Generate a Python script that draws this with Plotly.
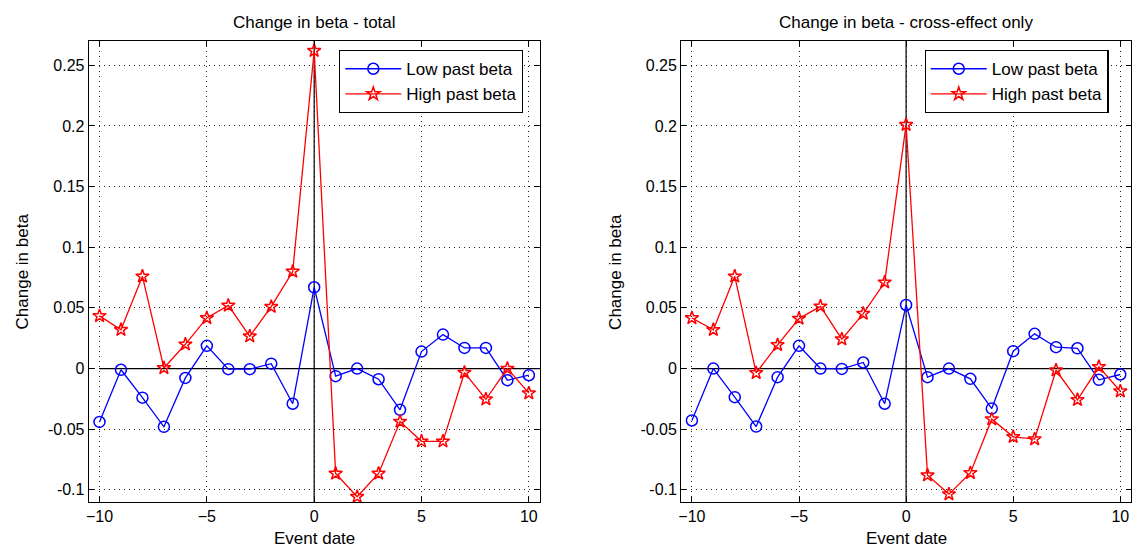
import plotly.graph_objects as go

event_date = list(range(-10, 11))

low_total = [-0.044, -0.001, -0.024, -0.048, -0.0077, 0.0187, -0.0005, -0.0005, 0.004, -0.029, 0.067,
             -0.0063, 0.0, -0.0088, -0.034, 0.014, 0.028, 0.017, 0.017, -0.0096, -0.0055]
high_total = [0.0434, 0.032, 0.076, 0.0005, 0.020, 0.0417, 0.052, 0.0266, 0.051, 0.080, 0.262,
              -0.0865, -0.1057, -0.0865, -0.0437, -0.060, -0.060, -0.0033, -0.0253, 0.0, -0.0203]

low_cross = [-0.0428, 0.0, -0.0236, -0.0478, -0.0071, 0.0187, 0.0, -0.0003, 0.005, -0.029, 0.0524,
             -0.0071, 0.0, -0.0085, -0.033, 0.0143, 0.0286, 0.0176, 0.0167, -0.0093, -0.0049]
high_cross = [0.0417, 0.0319, 0.076, -0.0036, 0.0195, 0.0412, 0.0513, 0.0242, 0.0453, 0.0711, 0.201,
              -0.0879, -0.1035, -0.086, -0.0417, -0.0563, -0.0582, -0.0014, -0.0258, 0.0014, -0.0187]

titles = ["Change in beta - total", "Change in beta - cross-effect only"]
series_names = ["Low past beta", "High past beta"]
y_ticks = [-0.1, -0.05, 0, 0.05, 0.1, 0.15, 0.2, 0.25]
y_tick_labels = ["-0.1", "-0.05", "0", "0.05", "0.1", "0.15", "0.2", "0.25"]
x_ticks = [-10, -5, 0, 5, 10]

FONT = "Liberation Sans, Arial, sans-serif"
W, H = 1134, 550


def px_x(p):
    return p / W


def px_y(p):
    return 1 - p / H


fig = go.Figure()

panels = [
    dict(low=low_total, high=high_total, xa="x", ya="y", leg="legend"),
    dict(low=low_cross, high=high_cross, xa="x2", ya="y2", leg="legend2"),
]

for p in panels:
    fig.add_trace(go.Scatter(x=[-10, 11], y=[0, 0], mode="lines", line=dict(color="black", width=1.2),
                             showlegend=False, hoverinfo="skip", xaxis=p["xa"], yaxis=p["ya"]))
    fig.add_trace(go.Scatter(x=[0, 0], y=[-0.2, 0.3], mode="lines", line=dict(color="black", width=1.2),
                             showlegend=False, hoverinfo="skip", xaxis=p["xa"], yaxis=p["ya"]))
    fig.add_trace(go.Scatter(x=event_date, y=p["low"], mode="lines+markers", name=series_names[0],
                             line=dict(color="#0000ff", width=1.3),
                             marker=dict(symbol="circle-open", size=11, color="#0000ff", line=dict(width=1.5)),
                             xaxis=p["xa"], yaxis=p["ya"], legend=p["leg"]))
    fig.add_trace(go.Scatter(x=event_date, y=p["high"], mode="lines+markers", name=series_names[1],
                             line=dict(color="#ff0000", width=1.3),
                             marker=dict(symbol="star-open", size=10, color="#ff0000", line=dict(width=1.5)),
                             xaxis=p["xa"], yaxis=p["ya"], legend=p["leg"]))

ydom = [px_y(502), px_y(41)]
xdoms = [[px_x(86), px_x(538)], [px_x(680), px_x(1131)]]

axis_common = dict(showline=True, linecolor="black", linewidth=1.2, mirror="ticks",
                   ticks="inside", ticklen=5, tickcolor="black",
                   showgrid=True, gridcolor="#222222", griddash="1px,4px", gridwidth=1,
                   zeroline=False, tickfont=dict(family=FONT, size=16, color="black"))

layout = dict(
    width=W, height=H, paper_bgcolor="white", plot_bgcolor="white",
    margin=dict(l=0, r=0, t=0, b=0),
    font=dict(family=FONT, color="black"),
    showlegend=True,
)
for i, (xa, ya) in enumerate([("xaxis", "yaxis"), ("xaxis2", "yaxis2")]):
    anchor_y = "y" if i == 0 else "y2"
    anchor_x = "x" if i == 0 else "x2"
    layout[xa] = dict(domain=xdoms[i], range=[-10.5, 10.5], tickvals=x_ticks, anchor=anchor_y, **axis_common)
    layout[ya] = dict(domain=ydom, range=[-0.11, 0.27], tickvals=y_ticks, ticktext=y_tick_labels,
                      anchor=anchor_x, **axis_common)

leg_common = dict(bgcolor="white", bordercolor="black", borderwidth=1.2,
                  font=dict(family=FONT, size=17, color="black"),
                  xanchor="left", yanchor="top", tracegroupgap=0, itemwidth=56)
layout["legend"] = dict(x=px_x(337), y=px_y(50), **leg_common)
layout["legend2"] = dict(x=px_x(924), y=px_y(50), **leg_common)

fig.update_layout(**layout)

ann = []
for i, t in enumerate(titles):
    cx = (xdoms[i][0] + xdoms[i][1]) / 2
    ann.append(dict(text=t, x=cx, y=px_y(22), xref="paper", yref="paper", showarrow=False,
                    font=dict(family=FONT, size=17, color="black"), xanchor="center", yanchor="middle"))
    ann.append(dict(text="Event date", x=cx, y=px_y(538), xref="paper", yref="paper", showarrow=False,
                    font=dict(family=FONT, size=17, color="black"), xanchor="center", yanchor="middle"))
    ylx = [px_x(20), px_x(614)][i]
    ann.append(dict(text="Change in beta", x=ylx, y=(ydom[0] + ydom[1]) / 2, xref="paper", yref="paper",
                    showarrow=False, textangle=-90,
                    font=dict(family=FONT, size=17, color="black"), xanchor="center", yanchor="middle"))
fig.update_layout(annotations=ann)

fig.write_html("out.html", config={"displayModeBar": False},
               post_script="document.body.style.margin='0';document.body.style.overflow='hidden';")
